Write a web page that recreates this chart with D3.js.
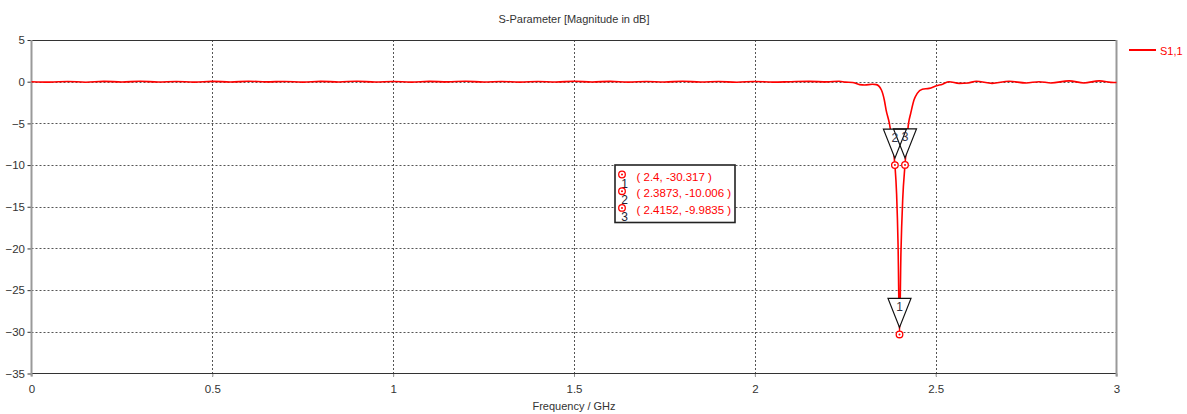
<!DOCTYPE html>
<html>
<head>
<meta charset="utf-8">
<script src="https://cdn.jsdelivr.net/npm/d3@7"></script>
<style>
  html, body { margin: 0; padding: 0; background: #fff; }
  svg { display: block; font-family: "Liberation Sans", Arial, sans-serif; }
</style>
</head>
<body>
<svg id="chart" width="1187" height="414"></svg>
<script>
// S11 magnitude (dB) versus frequency (GHz)
const freqGHz = [
  0.00, 0.05, 0.10, 0.15, 0.20, 0.25, 0.30, 0.35, 0.40, 0.45,
  0.50, 0.55, 0.60, 0.65, 0.70, 0.75, 0.80, 0.85, 0.90, 0.95,
  1.00, 1.05, 1.10, 1.15, 1.20, 1.25, 1.30, 1.35, 1.40, 1.45,
  1.50, 1.55, 1.60, 1.65, 1.70, 1.75, 1.80, 1.85, 1.90, 1.95,
  2.00, 2.05, 2.10, 2.15, 2.20,
  2.233, 2.25, 2.27, 2.29, 2.304, 2.325, 2.336, 2.35, 2.358, 2.363,
  2.372, 2.38, 2.3873, 2.392, 2.396, 2.40, 2.404, 2.409, 2.4152, 2.42,
  2.425, 2.431, 2.44, 2.449, 2.463, 2.482, 2.502, 2.519, 2.537, 2.565,
  2.59, 2.612, 2.656, 2.703, 2.75, 2.786, 2.819, 2.869, 2.91, 2.952,
  2.993, 3.00
];
const s11dB = [
  0.00, -0.05, 0.03, -0.06, 0.04, -0.03, 0.05, -0.04, 0.02, -0.05,
  0.04, -0.03, 0.05, -0.02, 0.03, -0.05, 0.04, -0.03, 0.06, -0.04,
  0.03, -0.05, 0.04, -0.02, 0.05, -0.04, 0.03, -0.05, 0.02, -0.04,
  0.05, -0.03, 0.04, -0.05, 0.03, -0.04, 0.05, -0.03, 0.02, -0.06,
  0.03, -0.05, 0.00, 0.04, -0.02,
  0.05, -0.05, -0.10, -0.35, -0.40, -0.30, -0.35, -1.00, -2.20, -3.40,
  -5.00, -7.30, -10.006, -13.5, -19.5, -30.317, -20.5, -14.0, -9.9835, -7.20,
  -5.00, -3.80, -2.20, -1.40, -0.90, -0.80, -0.50, -0.30, 0.00, -0.20,
  -0.15, 0.05, -0.20, 0.05, -0.15, 0.00, -0.15, 0.10, -0.15, 0.10,
  -0.10, -0.10
];

// Curve markers
const markerIds = ["1", "2", "3"];
const markerFreq = [2.4, 2.3873, 2.4152];
const markerVal = [-30.317, -10.006, -9.9835];
const markerText = ["( 2.4, -30.317 )", "( 2.3873, -10.006 )", "( 2.4152, -9.9835 )"];

// Axis ticks
const xTicks = [0, 0.5, 1, 1.5, 2, 2.5, 3];
const xTickLabels = ["0", "0.5", "1", "1.5", "2", "2.5", "3"];
const yTicks = [5, 0, -5, -10, -15, -20, -25, -30, -35];

const titleText = "S-Parameter [Magnitude in dB]";
const xLabel = "Frequency / GHz";
const seriesName = "S1,1";

const svg = d3.select("#chart");
const plotLeft = 31.5, plotRight = 1116.5, plotTop = 40, plotBottom = 373.5;

const x = d3.scaleLinear().domain([0, 3]).range([plotLeft, plotRight]);
const y = d3.scaleLinear().domain([-35, 5]).range([plotBottom, plotTop]);

const red = "#ff0000";
const ink = "#333";

// Title
svg.append("text")
  .attr("x", 574).attr("y", 23)
  .attr("text-anchor", "middle")
  .attr("font-size", 11).attr("fill", ink)
  .text(titleText);

// Dotted grid
const grid = svg.append("g").attr("stroke", "#555").attr("stroke-width", 1)
  .attr("stroke-dasharray", "2,2");
grid.selectAll("line.v").data(xTicks.filter(t => t > 0 && t < 3)).join("line")
  .attr("class", "v")
  .attr("x1", d => Math.round(x(d)) + 0.5).attr("x2", d => Math.round(x(d)) + 0.5)
  .attr("y1", plotTop).attr("y2", plotBottom + 3);
grid.selectAll("line.h").data(yTicks.filter(t => t < 5 && t > -35)).join("line")
  .attr("class", "h")
  .attr("x1", plotLeft).attr("x2", plotRight)
  .attr("y1", d => Math.round(y(d)) + 0.5).attr("y2", d => Math.round(y(d)) + 0.5);

// Axes (labels and short ticks)
const yAxis = svg.append("g")
  .attr("transform", `translate(${plotLeft},0)`)
  .call(d3.axisLeft(y).tickValues(yTicks).tickSize(4).tickPadding(2.5).tickFormat(d3.format("d")));
yAxis.select(".domain").remove();
yAxis.selectAll("line").attr("stroke", ink);
yAxis.selectAll("text").attr("font-size", 11.5).attr("fill", ink)
  .attr("font-family", "'Liberation Sans', Arial, sans-serif");

const xAxis = svg.append("g")
  .attr("transform", `translate(0,${plotBottom})`)
  .call(d3.axisBottom(x).tickValues(xTicks).tickSize(3).tickPadding(8)
    .tickFormat((d, i) => xTickLabels[i]));
xAxis.select(".domain").remove();
xAxis.selectAll("line").attr("stroke", "#888");
xAxis.selectAll("text").attr("font-size", 11.5).attr("fill", ink)
  .attr("font-family", "'Liberation Sans', Arial, sans-serif");

svg.append("text")
  .attr("x", 574).attr("y", 410)
  .attr("text-anchor", "middle")
  .attr("font-size", 11).attr("fill", ink)
  .text(xLabel);

// Frame: dark top/bottom, grey left/right
svg.append("line").attr("x1", plotLeft - 3).attr("x2", plotRight).attr("y1", plotTop + 0.5).attr("y2", plotTop + 0.5)
  .attr("stroke", ink);
svg.append("line").attr("x1", plotLeft).attr("x2", plotRight).attr("y1", plotBottom).attr("y2", plotBottom)
  .attr("stroke", ink);
svg.append("line").attr("x1", plotLeft).attr("x2", plotLeft).attr("y1", plotTop).attr("y2", plotBottom + 3)
  .attr("stroke", "#999").attr("stroke-width", 2);
svg.append("line").attr("x1", plotRight).attr("x2", plotRight).attr("y1", plotTop).attr("y2", plotBottom + 3)
  .attr("stroke", "#999").attr("stroke-width", 2);

// S11 curve
const pts = freqGHz.map((f, i) => [f, s11dB[i]]);
const line = d3.line().x(d => x(d[0])).y(d => y(d[1])).curve(d3.curveMonotoneX);
svg.append("path")
  .datum(pts)
  .attr("d", line)
  .attr("fill", "none")
  .attr("stroke", red)
  .attr("stroke-width", 1.6);

// Legend
svg.append("line").attr("x1", 1129).attr("x2", 1156).attr("y1", 50).attr("y2", 50)
  .attr("stroke", red).attr("stroke-width", 2);
svg.append("text").attr("x", 1160).attr("y", 54.5)
  .attr("font-size", 11).attr("fill", red).text(seriesName);

// Marker flags: inverted triangles above each marker point
const markers = markerIds.map((id, i) => ({ id, px: x(markerFreq[i]), py: y(markerVal[i]) }));
const triPath = m => {
  const ax = m.px, ay = m.py - 7;
  return `M${ax - 11.5},${ay - 29}L${ax + 11.5},${ay - 29}L${ax},${ay}Z`;
};
const flags = svg.append("g");
flags.selectAll("path.fill").data(markers).join("path")
  .attr("class", "fill").attr("d", triPath).attr("fill", "#fff").attr("stroke", "none");
flags.selectAll("path.edge").data(markers).join("path")
  .attr("class", "edge").attr("d", triPath).attr("fill", "none")
  .attr("stroke", "#111").attr("stroke-width", 1.2);
flags.selectAll("text").data(markers).join("text")
  .attr("x", m => m.px).attr("y", m => m.py - 7 - 29 + 12.5)
  .attr("text-anchor", "middle")
  .attr("font-size", 12).attr("fill", "#334")
  .text(m => m.id);

// Marker circles on the curve
function markerDot(g, cx, cy) {
  g.append("circle").attr("cx", cx).attr("cy", cy).attr("r", 3.3)
    .attr("fill", "#fff").attr("stroke", red).attr("stroke-width", 1.3);
  g.append("circle").attr("cx", cx).attr("cy", cy).attr("r", 1)
    .attr("fill", red);
}
const dots = svg.append("g");
markers.forEach(m => markerDot(dots, m.px, m.py));

// Marker readout box
const box = svg.append("g");
box.append("rect").attr("x", 615).attr("y", 165).attr("width", 120).attr("height", 57.5)
  .attr("fill", "#fff").attr("stroke", "#222").attr("stroke-width", 1.6);
markerText.forEach((t, i) => {
  const cy = 174.5 + i * 16.7;
  markerDot(box, 622, cy);
  box.append("text").attr("x", 624.5).attr("y", cy + 13)
    .attr("text-anchor", "middle").attr("font-size", 12).attr("fill", "#223")
    .text(markerIds[i]);
  box.append("text").attr("x", 636.5).attr("y", cy + 6)
    .attr("font-size", 11.5).attr("fill", red)
    .text(t);
});
</script>
</body>
</html>
